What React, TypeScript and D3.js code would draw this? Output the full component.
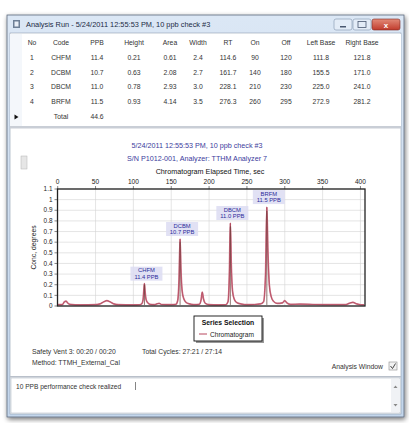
import React from "react";
import * as d3 from "d3";

const codes = ["CHFM", "DCBM", "DBCM", "BRFM"];
const ppb = [11.4, 10.7, 11.0, 11.5];
const heights = [0.21, 0.63, 0.78, 0.93];
const areas = [0.61, 2.08, 2.93, 4.14];
const widths = [2.4, 2.7, 3.0, 3.5];
const retention = [114.6, 161.7, 228.1, 276.3];
const onTimes = [90, 140, 210, 260];
const offTimes = [120, 180, 230, 295];
const leftBases = [111.8, 155.5, 225.0, 272.9];
const rightBases = [121.8, 171.0, 241.0, 281.2];
const totalPpb = 44.6;

const headers = ["No", "Code", "PPB", "Height", "Area", "Width", "RT", "On", "Off", "Left Base", "Right Base"];

// chromatogram trace
const traceTime = [
  0, 6, 9, 11, 13, 16, 30, 50, 56, 61, 65, 69, 74, 80, 100, 108, 111, 112.8, 113.9, 114.6, 115.4, 116.8,
  119, 122, 128, 131, 134, 137, 150, 156, 158.5, 160.3, 161.7, 162.8, 164.3, 166.5, 169.5, 174, 180,
  187, 189.5, 191, 192.5, 195, 200, 212, 222, 225, 226.8, 228.1, 229.3, 231, 233.5, 237, 243, 250,
  260, 268, 272, 274.6, 276.3, 277.8, 279.6, 282, 285, 290, 297, 300, 303, 308, 320, 340, 360, 380,
  385, 390, 395, 400, 405,
];
const traceSignal = [
  0.012, 0.012, 0.04, 0.045, 0.03, 0.015, 0.01, 0.012, 0.02, 0.04, 0.05, 0.04, 0.02, 0.012, 0.01, 0.012,
  0.02, 0.06, 0.16, 0.21, 0.14, 0.06, 0.03, 0.015, 0.012, 0.02, 0.025, 0.014, 0.012, 0.015, 0.05, 0.25,
  0.63, 0.35, 0.15, 0.07, 0.035, 0.02, 0.012, 0.015, 0.06, 0.13, 0.07, 0.025, 0.012, 0.01, 0.012, 0.04,
  0.3, 0.78, 0.4, 0.14, 0.06, 0.03, 0.018, 0.012, 0.014, 0.02, 0.04, 0.3, 0.93, 0.5, 0.2, 0.09, 0.045,
  0.025, 0.03, 0.05, 0.028, 0.015, 0.018, 0.014, 0.012, 0.012, 0.025, 0.035, 0.02, 0.012, 0.01,
];

const xTicks = [0, 50, 100, 150, 200, 250, 300, 350, 400];
const yTicks = [0, 0.1, 0.2, 0.3, 0.4, 0.5, 0.6, 0.7, 0.8, 0.9, 1, 1.1];

const FONT = "'Liberation Sans', Arial, sans-serif";

export default function App() {
  const x = d3.scaleLinear().domain([0, 406]).range([57.7, 365]);
  const y = d3.scaleLinear().domain([0, 1.1]).range([306, 189]);
  const pts = traceTime.map((t, i) => [t, traceSignal[i]] as [number, number]);
  const line = d3
    .line<[number, number]>()
    .x((d) => x(d[0]))
    .y((d) => y(d[1]))
    .curve(d3.curveMonotoneX);

  const colX = [32, 61, 97, 134, 170, 198, 228, 255, 286, 321, 362];
  const rowY = [59.5, 74.5, 88.5, 103.5];
  const rows = codes.map((c, i) => [
    String(i + 1),
    c,
    ppb[i].toFixed(1),
    heights[i].toFixed(2),
    areas[i].toFixed(2),
    widths[i].toFixed(1),
    retention[i].toFixed(1),
    String(onTimes[i]),
    String(offTimes[i]),
    leftBases[i].toFixed(1),
    rightBases[i].toFixed(1),
  ]);

  const fmtY = (d: number) => String(+d.toFixed(1));

  return (
    <svg
      width={409}
      height={423}
      style={{ position: "absolute", left: 0, top: 0, display: "block" }}
      fontFamily={FONT}
    >
      <defs>
        <filter id="shadow" x="-5%" y="-5%" width="110%" height="110%">
          <feGaussianBlur in="SourceAlpha" stdDeviation="2.5" />
          <feOffset dx="1" dy="2" />
          <feComponentTransfer>
            <feFuncA type="linear" slope="0.55" />
          </feComponentTransfer>
          <feMerge>
            <feMergeNode />
            <feMergeNode in="SourceGraphic" />
          </feMerge>
        </filter>
        <linearGradient id="titleGrad" x1="0" y1="0" x2="0" y2="1">
          <stop offset="0" stopColor="#dbe7f5" />
          <stop offset="1" stopColor="#c3d6ec" />
        </linearGradient>
        <linearGradient id="closeGrad" x1="0" y1="0" x2="0" y2="1">
          <stop offset="0" stopColor="#e28a78" />
          <stop offset="1" stopColor="#c13b2c" />
        </linearGradient>
      </defs>
      <rect width={409} height={423} fill="#ffffff" />

      {/* window frame */}
      <rect x={7} y={15} width={397} height={402} fill="url(#titleGrad)" stroke="#5d6a7c" strokeWidth={0.8} filter="url(#shadow)" />
      <rect x={10} y={33} width={391} height={381} fill="#ffffff" stroke="#8e9db0" strokeWidth={0.6} />

      {/* title bar */}
      <rect x={13} y={20} width={7} height={8} fill="#6d7f96" />
      <rect x={14.5} y={21.5} width={4} height={5} fill="#e8eef6" />
      <text x={26} y={27} fontSize={7.4} fill="#1b2a44">
        Analysis Run - 5/24/2011 12:55:53 PM, 10 ppb check #3
      </text>
      <rect x={334} y={19} width={18} height={11} rx={2} fill="#e3ecf7" stroke="#8194ad" strokeWidth={0.6} />
      <rect x={340} y={26} width={6} height={1.5} fill="#4a5870" />
      <rect x={353} y={19} width={18} height={11} rx={2} fill="#e3ecf7" stroke="#8194ad" strokeWidth={0.6} />
      <rect x={358} y={21.5} width={8} height={6} fill="none" stroke="#4a5870" strokeWidth={0.8} />
      <rect x={372} y={19} width={28} height={11} rx={2} fill="url(#closeGrad)" stroke="#7d2a22" strokeWidth={0.6} />
      <text x={386} y={27.5} fontSize={8} fill="#ffffff" textAnchor="middle" fontWeight="bold">x</text>

      {/* grid table */}
      <rect x={10} y={34} width={391} height={93} fill="#ffffff" />
      <rect x={10} y={34} width={12} height={93} fill="#f4f7fb" />
      {headers.map((h, i) => (
        <text key={h} x={colX[i]} y={44.5} fontSize={6.8} fill="#333" textAnchor="middle">
          {h}
        </text>
      ))}
      {rows.map((r, ri) =>
        r.map((v, ci) => (
          <text key={ri + "-" + ci} x={colX[ci]} y={rowY[ri]} fontSize={6.8} fill="#333" textAnchor="middle">
            {v}
          </text>
        ))
      )}
      <path d="M14.5,114.5 L18.5,117 L14.5,119.5 Z" fill="#111" />
      <text x={colX[1]} y={118.5} fontSize={6.8} fill="#333" textAnchor="middle">Total</text>
      <text x={colX[2]} y={118.5} fontSize={6.8} fill="#333" textAnchor="middle">{totalPpb.toFixed(1)}</text>
      <rect x={10} y={126} width={391} height={2.5} fill="#c9ced6" />

      {/* chart header */}
      <rect x={21} y={156} width={6} height={13} fill="#e6e6e6" stroke="#b5b5b5" strokeWidth={0.5} />
      <text x={197} y={147.5} fontSize={7.2} fill="#3b3b9c" textAnchor="middle">
        5/24/2011 12:55:53 PM, 10 ppb check #3
      </text>
      <text x={197} y={160.5} fontSize={7.2} fill="#3b3b9c" textAnchor="middle">
        S/N P1012-001, Analyzer: TTHM Analyzer 7
      </text>
      <text x={210} y={173.5} fontSize={7.2} fill="#111" textAnchor="middle">
        Chromatogram Elapsed Time, sec
      </text>

      {/* plot */}
      <rect x={57.5} y={189} width={307.5} height={117} fill="#ffffff" />
      {yTicks.map((t) => (
        <line key={"gy" + t} x1={57.5} x2={365} y1={y(t)} y2={y(t)} stroke="#d4d4d4" strokeWidth={0.6} />
      ))}
      {xTicks.map((t) => (
        <line key={"gx" + t} x1={x(t)} x2={x(t)} y1={189} y2={306} stroke="#d4d4d4" strokeWidth={0.6} />
      ))}
      {xTicks.map((t) => (
        <g key={"tx" + t}>
          <line x1={x(t)} x2={x(t)} y1={186} y2={189} stroke="#333" strokeWidth={0.6} />
          <text x={x(t)} y={183.5} fontSize={6.6} fill="#222" textAnchor="middle">
            {t}
          </text>
        </g>
      ))}
      {yTicks.map((t) => (
        <g key={"ty" + t}>
          <line x1={54.5} x2={57.5} y1={y(t)} y2={y(t)} stroke="#333" strokeWidth={0.6} />
          <text x={52.5} y={y(t) + 2.2} fontSize={6.4} fill="#222" textAnchor="end">
            {fmtY(t)}
          </text>
        </g>
      ))}
      <text
        transform={`translate(35.5,${y(0.55)}) rotate(-90)`}
        fontSize={6.8}
        fill="#222"
        textAnchor="middle"
      >
        Conc, degrees
      </text>

      <path d={line(pts) ?? ""} fill="none" stroke="#d07a8c" strokeWidth={1.7} />
      <path d={line(pts) ?? ""} fill="none" stroke="#a8394f" strokeWidth={0.6} />
      {retention.map((rt, i) => (
        <line
          key={"m" + i}
          x1={x(rt)}
          x2={x(rt)}
          y1={y(0.01)}
          y2={y(heights[i] * 0.96)}
          stroke="#5e3b33"
          strokeWidth={0.7}
        />
      ))}
      <rect x={57.5} y={189} width={307.5} height={117} fill="none" stroke="#222" strokeWidth={1.3} />

      {/* peak labels */}
      {retention.map((rt, i) => {
        const cx = x(rt) + 2;
        const top = y(heights[i]) - 17;
        return (
          <g key={"pl" + i}>
            <rect x={cx - 16} y={top} width={32} height={14} fill="#dcdcf2" opacity={0.85} />
            <text x={cx} y={top + 5.8} fontSize={5.8} fill="#2c2c9a" textAnchor="middle">
              {codes[i]}
            </text>
            <text x={cx} y={top + 12.2} fontSize={5.8} fill="#2c2c9a" textAnchor="middle">
              {ppb[i].toFixed(1)} PPB
            </text>
          </g>
        );
      })}

      {/* legend */}
      <rect x={196} y={318} width={68} height={25} fill="#555" opacity={0.6} />
      <rect x={194} y={316} width={68} height={25} fill="#ffffff" stroke="#111" strokeWidth={0.9} />
      <text x={228} y={325} fontSize={6.8} fill="#111" textAnchor="middle" fontWeight="bold">
        Series Selection
      </text>
      <line x1={199} x2={207} y1={334} y2={334} stroke="#b8485e" strokeWidth={1} />
      <text x={210} y={336.5} fontSize={6.6} fill="#222">
        Chromatogram
      </text>

      {/* status texts */}
      <text x={32} y={353.5} fontSize={6.8} fill="#333">Safety Vent 3: 00:20 / 00:20</text>
      <text x={142} y={353.5} fontSize={6.8} fill="#333">Total Cycles: 27:21 / 27:14</text>
      <text x={32} y={364.5} fontSize={6.8} fill="#333">Method: TTMH_External_Cal</text>
      <text x={383} y={368.5} fontSize={6.8} fill="#333" textAnchor="end">Analysis Window</text>
      <rect x={389} y={362} width={8} height={8} fill="#f2f2f2" stroke="#8a8a8a" strokeWidth={0.6} />
      <path d="M390.5,366 L392.5,368.5 L395.5,363.5" fill="none" stroke="#333" strokeWidth={0.9} />

      {/* notes box */}
      <rect x={10} y={376} width={391} height={1.5} fill="#b9c0ca" />
      <rect x={11} y={378} width={389} height={35} fill="#ffffff" stroke="#a9b3c0" strokeWidth={0.5} />
      <text x={16} y={388.5} fontSize={6.6} fill="#333">10 PPB performance check realized</text>
      <line x1={135.5} x2={135.5} y1={382} y2={390} stroke="#333" strokeWidth={0.6} />
      <rect x={391} y={379} width={9} height={33} fill="#f0f2f5" />
      <path d="M393.5,388 L395.5,385.5 L397.5,388 Z" fill="#888" />
      <path d="M393.5,404 L395.5,406.5 L397.5,404 Z" fill="#888" />
    </svg>
  );
}
